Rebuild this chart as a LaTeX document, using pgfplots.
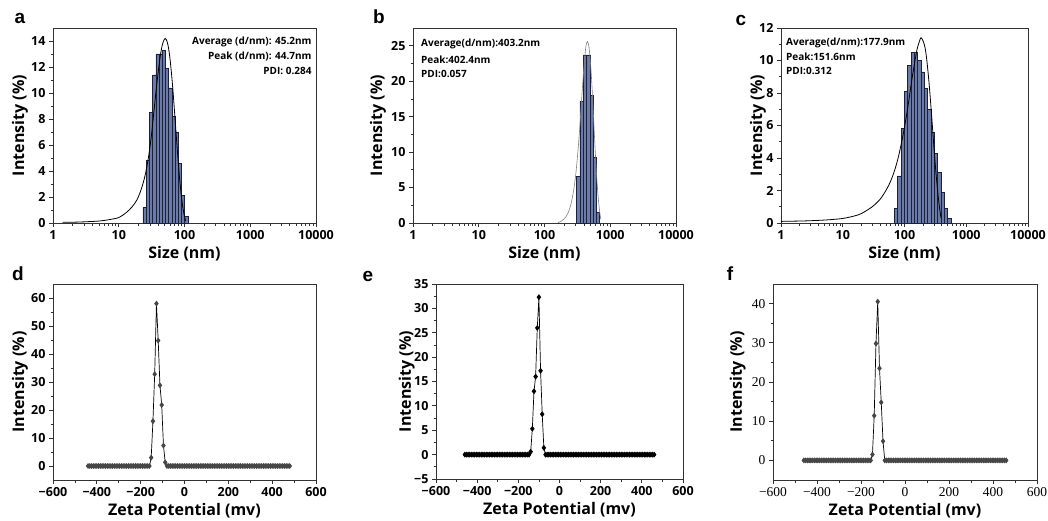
\documentclass[border=0pt]{standalone}
\usepackage{fontspec}
\setmainfont{Open Sans}
\newfontfamily\tickserif{Liberation Serif}
\newfontfamily\letterfont{Liberation Sans}
\usepackage{pgfplots}
\pgfplotsset{compat=1.18}

\definecolor{barfill}{RGB}{108,123,166}
\definecolor{baredge}{RGB}{25,33,62}
\definecolor{framec}{RGB}{50,50,50}
\definecolor{markgray}{RGB}{70,70,70}

\pgfplotsset{
  panel/.style={
    scale only axis, anchor=south west,
    axis line style={framec, line width=0.9pt},
    tick style={framec, line width=0.8pt},
    tick align=outside, xtick pos=bottom, ytick pos=left,
    major tick length=4pt, minor tick length=2.5pt,
    tick label style={font=\bfseries\fontsize{12.5}{13}\selectfont},
    label style={font=\bfseries\fontsize{16}{17}\selectfont},
    /pgf/number format/assume math mode=true,
    ylabel={Intensity (\%)},
    ylabel style={at={(axis description cs:-#1,0.5)}, anchor=center},
    minor y tick num=1,
  },
  sizepanel/.style={panel=#1, xmin=1, xmax=10000,
    xtick={1,10,100,1000,10000}, xticklabels={1,10,100,1000,10000},
    xlabel={Size (nm)}, ymin=0},
  zetapanel/.style={panel=#1, xmin=-600, xmax=600,
    xtick={-600,-400,...,600}, xticklabels={−600,−400,−200,0,200,400,600},
    minor x tick num=1, xlabel={Zeta Potential (mv)}},
  dlsbar/.style={ybar, bar width=#1, fill=barfill, draw=baredge, line width=0.5pt},
  zeta/.style={color=black, line width=0.7pt, mark=diamond*, mark size=2.4pt,
    mark options={fill=#1, draw=#1}},
}

\begin{document}
\begin{tikzpicture}
\useasboundingbox (0pt,0pt) rectangle (1048pt,520pt);

% ---- a
\begin{axis}[xmode=log, sizepanel=0.1255, at={(53pt,297pt)}, width=263pt, height=195pt,
  ymax=15, ytick={0,2,...,14}]
\addplot[dlsbar=3.2pt] coordinates {
  (24.7,1.2) (27.7,4.8) (31.0,8.5) (34.6,11.4) (38.7,13.0) (43.3,13.0) (48.5,13.3)
  (54.2,11.9) (60.7,10.4) (67.8,8.2) (75.9,7.0) (84.9,4.6) (94.9,2.1) (106.2,0.5)};
\addplot[black, line width=0.8pt, smooth] coordinates {
  (1.4,0.05) (2,0.06) (3,0.09) (5,0.15) (7,0.25) (10,0.42) (13,0.8) (16,1.25)
  (19,1.8) (22,2.6) (25,3.6) (28,4.9) (31,6.5) (34,8.4) (37,10.2) (40,11.7)
  (43,12.9) (46,13.7) (49,14.1) (51,14.2) (53,14.1) (56,13.7) (60,12.7) (65,10.9)
  (70,8.8) (75,6.7) (80,4.8) (85,3.2) (90,2.0) (95,1.1) (100,0.5) (104,0.15)};
\end{axis}

% ---- b
\begin{axis}[xmode=log, sizepanel=0.133, at={(413pt,297pt)}, width=263pt, height=195pt,
  ymax=27.5, ytick={0,5,...,25}]
\addplot[dlsbar=3.3pt] coordinates {
  (326.6,6.6) (366.4,17.2) (411.1,23.7) (461.3,23.7) (517.6,18.0) (580.8,9.3) (651.6,1.55)};
\addplot[gray, line width=0.6pt, smooth] coordinates {
  (160,0.05) (180,0.25) (200,0.6) (225,1.3) (250,2.5) (275,4.4) (300,7.0) (325,10.5)
  (350,14.5) (375,18.7) (400,22.3) (425,24.8) (448,25.6) (475,24.8) (500,22.6)
  (525,19.6) (550,16.0) (575,12.3) (600,9.0) (625,6.2) (650,4.0) (675,2.4)
  (700,1.2) (720,0.5)};
\end{axis}

% ---- c
\begin{axis}[xmode=log, sizepanel=0.093, at={(781pt,297pt)}, width=247pt, height=195pt,
  ymax=12, ytick={0,2,...,12}]
\addplot[dlsbar=3.3pt] coordinates {
  (72.8,0.9) (82.4,2.9) (93.3,5.8) (105.7,8.1) (119.7,9.7) (135.5,10.5) (153.5,10.5)
  (173.8,10.0) (196.8,9.3) (222.8,8.3) (252.3,7.0) (285.8,5.6) (323.6,4.3)
  (366.4,3.1) (415.0,1.9) (469.9,0.9) (532.1,0.3)};
\addplot[black, line width=0.8pt, smooth] coordinates {
  (1,0.10) (2,0.12) (3,0.14) (5,0.18) (7,0.22) (10,0.28) (15,0.42) (20,0.58)
  (30,1.0) (40,1.45) (50,2.0) (60,2.6) (70,3.3) (80,4.1) (90,5.0) (100,5.9)
  (115,7.3) (130,8.7) (145,9.8) (160,10.7) (175,11.2) (185,11.4) (200,11.2)
  (215,10.8) (230,10.0) (250,8.6) (270,7.0) (290,5.4) (310,3.9) (330,2.7)
  (350,1.7) (370,0.9) (390,0.3)};
\end{axis}

% ---- d
\begin{axis}[zetapanel=0.1255, at={(53pt,40pt)}, width=263pt, height=196pt,
  ymin=-5, ymax=65, ytick={0,10,...,60}]
\addplot[zeta=markgray] coordinates {
  (-440,0) (-432,0) (-424,0) (-416,0) (-408,0) (-400,0) (-392,0) (-384,0) (-376,0)
  (-368,0) (-360,0) (-352,0) (-344,0) (-336,0) (-328,0) (-320,0) (-312,0) (-304,0)
  (-296,0) (-288,0) (-280,0) (-272,0) (-264,0) (-256,0) (-248,0) (-240,0) (-232,0)
  (-224,0) (-216,0) (-208,0) (-200,0) (-192,0) (-184,0) (-176,0) (-168,0) (-160,0)
  (-152,3.0) (-144,16.0) (-136,32.8) (-128,58.0) (-120,44.8) (-112,28.8)
  (-104,21.8) (-96,7.3) (-88,1.3)
  (-80,0) (-72,0) (-64,0) (-56,0) (-48,0) (-40,0) (-32,0) (-24,0) (-16,0) (-8,0)
  (0,0) (8,0) (16,0) (24,0) (32,0) (40,0) (48,0) (56,0) (64,0) (72,0) (80,0)
  (88,0) (96,0) (104,0) (112,0) (120,0) (128,0) (136,0) (144,0) (152,0) (160,0)
  (168,0) (176,0) (184,0) (192,0) (200,0) (208,0) (216,0) (224,0) (232,0) (240,0)
  (248,0) (256,0) (264,0) (272,0) (280,0) (288,0) (296,0) (304,0) (312,0) (320,0)
  (328,0) (336,0) (344,0) (352,0) (360,0) (368,0) (376,0) (384,0) (392,0) (400,0)
  (408,0) (416,0) (424,0) (432,0) (440,0) (448,0) (456,0) (464,0) (472,0) (480,0)};
\end{axis}

% ---- e
\begin{axis}[zetapanel=0.119, at={(436pt,41pt)}, width=247pt, height=195pt,
  ymin=-5, ymax=35, ytick={-5,0,...,35},
  yticklabels={−5,0,5,10,15,20,25,30,35}]
\addplot[zeta=black] coordinates {
  (-460,0) (-452,0) (-444,0) (-436,0) (-428,0) (-420,0) (-412,0) (-404,0) (-396,0)
  (-388,0) (-380,0) (-372,0) (-364,0) (-356,0) (-348,0) (-340,0) (-332,0) (-324,0)
  (-316,0) (-308,0) (-300,0) (-292,0) (-284,0) (-276,0) (-268,0) (-260,0) (-252,0)
  (-244,0) (-236,0) (-228,0) (-220,0) (-212,0) (-204,0) (-196,0) (-188,0) (-180,0)
  (-172,0) (-164,0) (-156,0) (-148,0)
  (-140,0.6) (-132,5.3) (-124,13.0) (-116,16.0) (-108,26.0) (-100,32.3)
  (-92,17.2) (-84,8.3) (-76,1.4)
  (-68,0) (-60,0) (-52,0) (-44,0) (-36,0) (-28,0) (-20,0) (-12,0) (-4,0) (4,0)
  (12,0) (20,0) (28,0) (36,0) (44,0) (52,0) (60,0) (68,0) (76,0) (84,0) (92,0)
  (100,0) (108,0) (116,0) (124,0) (132,0) (140,0) (148,0) (156,0) (164,0) (172,0)
  (180,0) (188,0) (196,0) (204,0) (212,0) (220,0) (228,0) (236,0) (244,0) (252,0)
  (260,0) (268,0) (276,0) (284,0) (292,0) (300,0) (308,0) (316,0) (324,0) (332,0)
  (340,0) (348,0) (356,0) (364,0) (372,0) (380,0) (388,0) (396,0) (404,0) (412,0)
  (420,0) (428,0) (436,0) (444,0) (452,0) (460,0)};
\end{axis}

% ---- f
\begin{axis}[zetapanel=0.134, at={(773pt,40pt)}, width=264pt, height=196pt,
  ymin=-5, ymax=45, ytick={0,10,...,40},
  tick label style={font=\tickserif\fontsize{13.5}{14}\selectfont}]
\addplot[zeta=markgray] coordinates {
  (-460,0) (-452,0) (-444,0) (-436,0) (-428,0) (-420,0) (-412,0) (-404,0) (-396,0)
  (-388,0) (-380,0) (-372,0) (-364,0) (-356,0) (-348,0) (-340,0) (-332,0) (-324,0)
  (-316,0) (-308,0) (-300,0) (-292,0) (-284,0) (-276,0) (-268,0) (-260,0) (-252,0)
  (-244,0) (-236,0) (-228,0) (-220,0) (-212,0) (-204,0) (-196,0) (-188,0) (-180,0)
  (-172,0) (-164,0) (-156,0)
  (-148,1.5) (-140,11.4) (-132,29.8) (-124,40.5) (-116,23.5) (-108,14.8) (-100,4.9)
  (-92,0) (-84,0) (-76,0)
  (-68,0) (-60,0) (-52,0) (-44,0) (-36,0) (-28,0) (-20,0) (-12,0) (-4,0) (4,0)
  (12,0) (20,0) (28,0) (36,0) (44,0) (52,0) (60,0) (68,0) (76,0) (84,0) (92,0)
  (100,0) (108,0) (116,0) (124,0) (132,0) (140,0) (148,0) (156,0) (164,0) (172,0)
  (180,0) (188,0) (196,0) (204,0) (212,0) (220,0) (228,0) (236,0) (244,0) (252,0)
  (260,0) (268,0) (276,0) (284,0) (292,0) (300,0) (308,0) (316,0) (324,0) (332,0)
  (340,0) (348,0) (356,0) (364,0) (372,0) (380,0) (388,0) (396,0) (404,0) (412,0)
  (420,0) (428,0) (436,0) (444,0) (452,0) (460,0)};
\end{axis}

% annotations
\begin{scope}[every node/.style={font=\bfseries\fontsize{10}{11}\selectfont, inner sep=0pt}]
\node[anchor=east] at (311.7pt,478.3pt) {Average (d/nm): 45.2nm};
\node[anchor=east] at (311.7pt,464pt) {Peak (d/nm): 44.7nm};
\node[anchor=east] at (311.7pt,449.3pt) {PDI: 0.284};
\node[anchor=west] at (421pt,475.7pt) {Average(d/nm):403.2nm};
\node[anchor=west] at (421pt,460.7pt) {Peak:402.4nm};
\node[anchor=west] at (421pt,446pt) {PDI:0.057};
\node[anchor=west] at (786pt,477.3pt) {Average(d/nm):177.9nm};
\node[anchor=west] at (786pt,463.3pt) {Peak:151.6nm};
\node[anchor=west] at (786pt,448.7pt) {PDI:0.312};
\end{scope}
% panel letters
\begin{scope}[every node/.style={font=\letterfont\bfseries\fontsize{19}{20}\selectfont, inner sep=0pt}]
\node at (20pt,502pt) {a};
\node at (379pt,503pt) {b};
\node at (741pt,500pt) {c};
\node at (18pt,246pt) {d};
\node at (368pt,244pt) {e};
\node at (730pt,246pt) {f};
\end{scope}
\end{tikzpicture}
\end{document}
